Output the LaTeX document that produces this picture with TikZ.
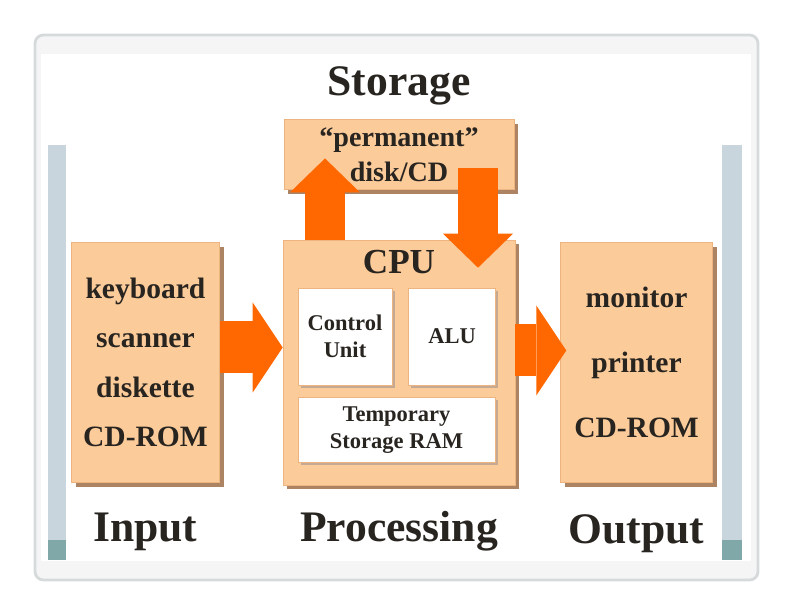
\documentclass[tikz,border=0pt]{standalone}
\usepackage{fontspec}
\setmainfont{Liberation Serif}
\usetikzlibrary{
	arrows.meta,
	positioning,
	calc,
	shadows
}

\definecolor{peach}{RGB}{251,203,154}
\definecolor{peachline}{RGB}{238,180,128}
\definecolor{shade}{RGB}{172,132,100}
\definecolor{hotorange}{RGB}{255,104,0}
\definecolor{barblue}{RGB}{201,213,221}
\definecolor{barteal}{RGB}{128,168,168}
\definecolor{ink}{RGB}{40,36,32}
\definecolor{framegray}{RGB}{214,218,218}

\begin{document}
\begin{tikzpicture}[
		box/.style={draw=peachline, fill=peach, align=center, text=ink, inner sep=0pt,
			drop shadow={shadow xshift=3pt, shadow yshift=-3pt, fill=shade, opacity=1}},
		unit/.style={draw=peachline, fill=white, align=center, text=ink, inner sep=0pt,
			font=\fontsize{16}{19}\selectfont\bfseries,
			drop shadow={shadow xshift=2pt, shadow yshift=-2pt, fill=shade!70, opacity=1}},
		title/.style={text=ink, inner sep=0pt, font=\fontsize{31}{34}\selectfont\bfseries},
		hflow/.style={draw=hotorange, line width=1.3cm,
			-{Triangle[length=0.75cm, width=2.25cm, line width=0pt, fill=hotorange]}},
		vflow/.style={draw=hotorange, line width=1cm,
			-{Triangle[length=0.85cm, width=1.75cm, line width=0pt, fill=hotorange]}},
		node distance=1.2cm
		]
		
		% Frame
		\useasboundingbox (-9.975,-6.2375) rectangle (9.825,9.0625);
		\draw[framegray, line width=2pt, fill=gray!8, rounded corners=6pt] (-9.1,-5.4375) rectangle (8.975,8.1875);
		\fill[white] (-8.95,-4.95) rectangle (8.8,7.7);
		\fill[barblue] (-8.775,-4.9375) rectangle (-8.325,5.4375);
		\fill[barteal] (-8.775,-4.9375) rectangle (-8.325,-4.4375);
		\fill[barblue] (8.075,-4.9375) rectangle (8.575,5.4375);
		\fill[barteal] (8.075,-4.9375) rectangle (8.575,-4.4375);
		
		% Nodes
		\node[box, minimum width=5.8cm, minimum height=6.125cm] (cpu) at (0,0) {};
		\node[title, font=\fontsize{25}{28}\selectfont\bfseries, below=0.25cm of cpu.north] (cpulabel) {CPU};
		
		\node[unit, minimum width=2.35cm, minimum height=2.425cm] (control) at (-1.35,0.65) {Control\\Unit};
		\node[unit, minimum width=2.175cm, minimum height=2.425cm, right=0.4cm of control] (alu) {ALU};
		\node[unit, minimum width=4.925cm, minimum height=1.625cm, below right=0.3cm and 0cm of control.south west] (ram) {Temporary\\Storage RAM};
		
		\node[box, font=\fontsize{21}{35}\selectfont\bfseries, minimum width=3.7cm, minimum height=6cm, left=1.575cm of cpu] (input) {
			keyboard\\scanner\\diskette\\CD-ROM
		};
		
		\node[box, font=\fontsize{21}{46}\selectfont\bfseries, minimum width=3.8cm, minimum height=6cm, right=1.125cm of cpu] (output) {
			monitor\\printer\\CD-ROM
		};
		
		\node[box, font=\fontsize{20}{25}\selectfont\bfseries, minimum width=5.75cm, minimum height=1.75cm, above=1.25cm of cpu] (disk) {
			``permanent''\\disk/CD
		};
		
		\node[title, above=0.35cm of disk] (storage) {Storage};
		\node[title, below=0.75cm of input] (inputlabel) {Input};
		\node[title, below=0.65cm of cpu] (processing) {Processing};
		\node[title, below=0.8cm of output] (outputlabel) {Output};
		
		% Arrows
		\coordinate (inflow) at ([yshift=0.375cm]input.east);
		\draw[hflow] (inflow) -- (inflow -| cpu.west);
		\coordinate (outflow) at ([yshift=0.3cm]cpu.east);
		\draw[hflow] (outflow) -- ($(outflow -| output.west)+(0.15,0)$);
		\draw[vflow] ([xshift=-1.85cm]cpu.north) -- ([xshift=-1.85cm, yshift=-0.1cm]disk.center);
		\draw[vflow] ([xshift=1.975cm, yshift=-0.35cm]disk.center) -- ([xshift=1.975cm, yshift=-0.7cm]cpu.north);
		
	\end{tikzpicture}
\end{document}
